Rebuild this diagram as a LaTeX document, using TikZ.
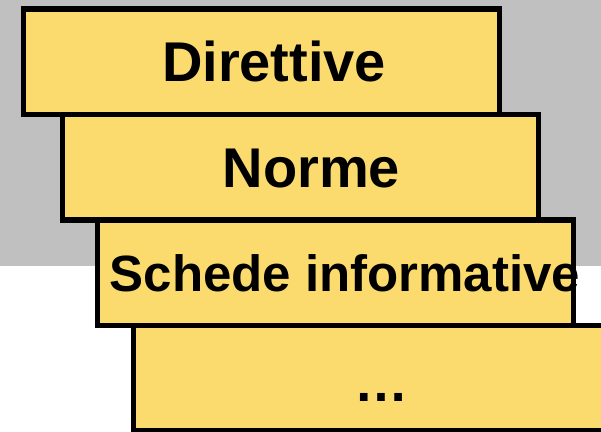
\documentclass[tikz,border=0pt]{standalone}
\usepackage{fontspec}
\setmainfont{Liberation Sans}
\usetikzlibrary{positioning}
\definecolor{cardyellow}{RGB}{252,219,110}
\definecolor{bggray}{RGB}{192,192,192}
\tikzset{
  card/.style = {draw=black, line width=5.5pt, fill=cardyellow, minimum width=476pt, minimum height=105.5pt,
                 outer sep=0pt, inner sep=0pt, text height=40pt, text depth=0pt,
                 font=\bfseries\fontsize{56}{66}\selectfont},
  smallcard/.style = {card, text height=37pt, font=\bfseries\fontsize{51}{61}\selectfont},
}

\begin{document}
\begin{tikzpicture}[x=1pt,y=-1pt]
  \useasboundingbox (0,0) rectangle (601,431);
  % grey band behind the upper cards
  \fill[bggray] (0,0) rectangle (601,265.7);
  % stacked cards, each shifted to the right
  \node[card] (dir) at (261.6,61.7) {\hspace*{25pt}Direttive};
  \node[card, anchor=north west, xshift=38.8pt] (norme) at (dir.south west) {\hspace*{22pt}Norme};
  % label runs over the right border
  \node[smallcard, anchor=north west, xshift=35pt] (schede) at (norme.south west)
    {\makebox[400pt]{\hspace*{19pt}Schede informative}};
  \node[card, anchor=north west, xshift=36pt, text height=47pt, font=\bfseries\fontsize{54}{64}\selectfont] (altro)
    at (schede.south west) {\hspace*{21pt}…};
\end{tikzpicture}
\end{document}
